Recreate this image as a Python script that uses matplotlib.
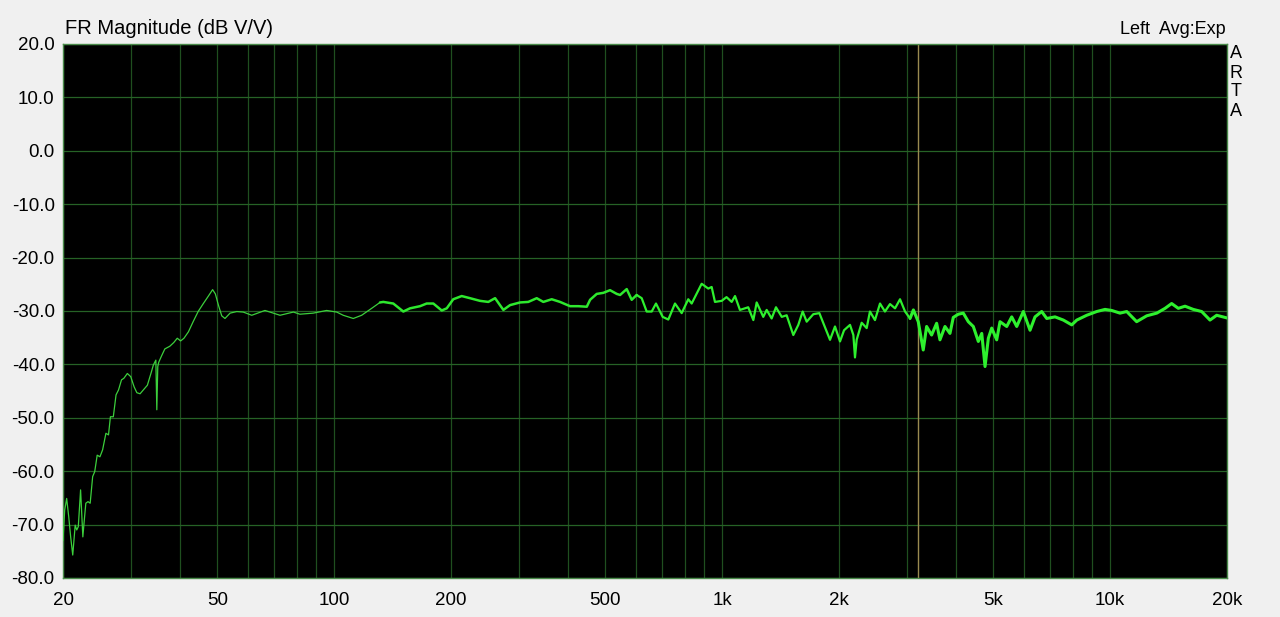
import matplotlib
matplotlib.use("Agg")
import matplotlib.pyplot as plt

plt.rcParams['font.family'] = ['Liberation Sans', 'DejaVu Sans']

# ---- data ----
freq_hz = [20.0, 20.2, 20.44, 20.69, 20.93, 21.19, 21.5, 21.7, 21.9, 22.2, 22.5, 22.66, 22.9, 23.2, 23.5,
           23.85, 24.14, 24.5, 24.9, 25.3, 25.8, 26.2, 26.5, 26.96, 27.4, 27.8, 28.3, 28.7, 29.3, 29.9,
           30.5, 31.0, 31.6, 32.2, 33.0, 33.7, 34.2, 34.7, 34.9, 35.1, 35.3, 35.9, 36.6, 37.7, 38.6,
           39.4, 40.2, 41.0, 42.1, 43.3, 44.6, 46.0, 47.4, 48.6, 49.4, 50.3, 51.3, 52.3, 53.9, 56.1,
           58.3, 61.3, 66.3, 72.5, 78.5, 81.6, 88.3, 95.6, 101.5, 105.5, 112, 117.7, 124.9, 131.2,
           133.8, 142, 150.7, 156.8, 166.4, 173.1, 180.1, 189.3, 195, 202.7, 213.1, 223.9, 237.6,
           249.6, 259.8, 272.9, 283.9, 301.2, 316.4, 332.6, 345.9, 363.6, 382, 405.4, 425.9, 447.7,
           456.6, 474.9, 493.9, 513.9, 534.8, 545.5, 567.4, 584.5, 602, 620.2, 638.8, 658.1, 675.1,
           702.4, 726.3, 755.7, 786.3, 817.6, 834.3, 885.2, 920.6, 939.4, 958, 997, 1026, 1058, 1079,
           1111, 1167, 1203, 1227, 1276, 1302, 1341, 1376, 1424, 1466, 1525, 1571, 1612, 1651, 1717,
           1780, 1830, 1896, 1953, 2012, 2061, 2135, 2178, 2199, 2221, 2288, 2357, 2403, 2476, 2551,
           2627, 2707, 2789, 2873, 2960, 3049, 3110, 3201, 3297, 3364, 3465, 3570, 3641, 3751, 3864,
           3941, 4060, 4182, 4308, 4438, 4572, 4666, 4758, 4852, 4950, 5099, 5200, 5411, 5574, 5742,
           5971, 6214, 6401, 6659, 6862, 7208, 7573, 7960, 8200, 8700, 9231, 9697, 10090, 10600,
           11030, 11700, 12420, 13180, 13850, 14400, 14980, 15590, 16370, 17210, 18080, 18810,
           19760, 20000]
level_db = [-73.0, -67.3, -65.1, -68.5, -72.3, -75.7, -70.1, -71.0, -70.4, -63.5, -72.3, -69.7, -66.0, -65.7, -66.0,
            -61.0, -60.1, -57.0, -57.3, -56.0, -52.9, -53.2, -49.8, -49.8, -45.7, -44.8, -42.9, -42.6, -41.7, -42.3,
            -44.2, -45.3, -45.5, -44.8, -43.9, -41.7, -40.1, -39.2, -48.5, -40.4, -39.6, -38.4, -37.1, -36.6, -35.9,
            -35.1, -35.6, -35.1, -33.9, -32.0, -30.1, -28.6, -27.2, -26.0, -26.8, -28.9, -30.9, -31.4, -30.4, -30.1,
            -30.2, -30.8, -29.9, -30.8, -30.2, -30.6, -30.4, -29.9, -30.2, -30.8, -31.4, -30.8, -29.5, -28.4,
            -28.3, -28.6, -30.1, -29.5, -29.1, -28.6, -28.6, -29.9, -29.5, -27.8, -27.2, -27.6, -28.1,
            -28.3, -27.6, -29.8, -28.9, -28.4, -28.3, -27.6, -28.3, -27.8, -28.3, -29.1, -29.1, -29.2,
            -27.9, -26.8, -26.6, -26.1, -26.8, -27.0, -25.9, -27.9, -27.0, -27.6, -30.1, -30.1, -28.6,
            -31.1, -31.6, -28.6, -30.4, -27.8, -28.6, -24.9, -25.8, -25.5, -28.3, -28.1, -27.4, -28.3, -27.2,
            -29.8, -29.3, -31.7, -28.4, -31.1, -29.8, -31.4, -29.3, -31.1, -30.8, -34.5, -32.6, -30.1, -32.0, -30.6,
            -30.4, -32.6, -35.4, -32.9, -35.7, -33.6, -32.6, -34.5, -38.7, -35.4, -32.2, -33.2, -30.1, -31.7, -28.6,
            -30.1, -28.7, -29.5, -27.8, -30.1, -31.4, -29.8, -32.0, -37.3, -32.9, -34.5, -32.3, -35.4, -32.9, -34.2,
            -31.2, -30.6, -30.4, -32.0, -32.9, -35.7, -34.2, -40.4, -35.1, -33.2, -35.4, -32.0, -32.9, -31.1, -32.9,
            -30.1, -33.6, -31.1, -30.1, -31.4, -31.1, -31.7, -32.6, -31.7, -30.8, -30.1, -29.7, -29.9, -30.4,
            -30.1, -32.0, -30.9, -30.4, -29.5, -28.6, -29.5, -29.1, -29.7, -30.1, -31.7, -30.8,
            -31.2, -31.3]

x_tick_freqs = [20, 50, 100, 200, 500, 1000, 2000, 5000, 10000, 20000]
x_tick_labels = ["20", "50", "100", "200", "500", "1k", "2k", "5k", "10k", "20k"]
y_ticks = [-80, -70, -60, -50, -40, -30, -20, -10, 0, 10, 20]
grid_freqs = [20, 30, 40, 50, 60, 70, 80, 90, 100, 200, 300, 400, 500, 600, 700, 800, 900,
              1000, 2000, 3000, 4000, 5000, 6000, 7000, 8000, 9000, 10000, 20000]
cursor_freq = 3200

# ---- figure ----
BG = "#f0f0f0"
fig = plt.figure(figsize=(12.8, 6.17), dpi=100, facecolor=BG)
ax = fig.add_axes([63 / 1280, 39 / 617, 1164 / 1280, 534 / 617])
ax.set_facecolor("black")
ax.set_xscale("log")
ax.set_xlim(20, 20000)
ax.set_ylim(-80, 20)

grid_c = "#1f4f1f"
for f in grid_freqs:
    ax.axvline(f, color=grid_c, lw=0.9, zorder=1)
for v in y_ticks:
    ax.axhline(v, color="#266226", lw=0.9, zorder=1)
ax.axvline(cursor_freq, color="#9a8a50", lw=1.0, zorder=2)

# curve in bands with different stroke weight (denser measurement noise at HF)
def idx_range(lo, hi):
    return [i for i, f in enumerate(freq_hz) if lo <= f <= hi]

bands = [(20, 131.2, 0.9, "#3ccf3c"),
         (131.2, 602, 1.8, "#2ee82e"),
         (602, 3049, 1.6, "#2ef02e"),
         (3049, 20000, 2.2, "#2ef02e")]
for lo, hi, lw, col in bands:
    ids = idx_range(lo, hi)
    ax.plot([freq_hz[i] for i in ids], [level_db[i] for i in ids], color=col, lw=lw,
            solid_joinstyle="round", solid_capstyle="round", zorder=3)

ax.set_xticks(x_tick_freqs)
ax.set_xticklabels(x_tick_labels)
ax.xaxis.set_minor_locator(matplotlib.ticker.NullLocator())
ax.set_yticks(y_ticks)
ax.set_yticklabels([f"{v:.1f}" for v in y_ticks])
ax.tick_params(axis="both", length=0, labelsize=13.5, colors="black")
ax.tick_params(axis="x", pad=10)
ax.tick_params(axis="y", pad=6)
for s in ax.spines.values():
    s.set_color("#4a8a4a")
    s.set_linewidth(1.0)

fig.text(65 / 1280, 1 - 28 / 617, "FR Magnitude (dB V/V)", ha="left", va="center", fontsize=14.5)
fig.text(1226 / 1280, 1 - 30 / 617, "Left  Avg:Exp", ha="right", va="center", fontsize=13)
for k, ch in enumerate("ARTA"):
    fig.text(1236 / 1280, 1 - (54 + 19 * k) / 617, ch, ha="center", va="center", fontsize=13)

fig.savefig("out.png", dpi=100, facecolor=BG)
